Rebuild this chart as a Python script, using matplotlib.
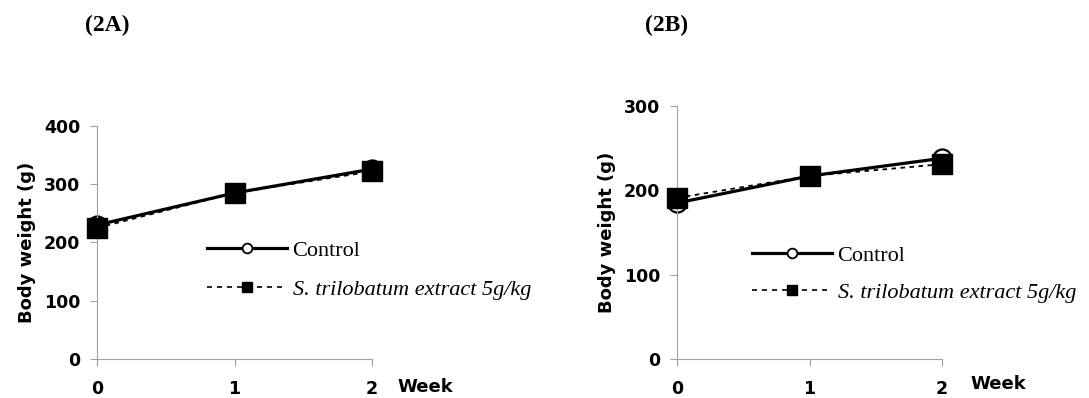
import matplotlib
matplotlib.use("Agg")
import matplotlib.pyplot as plt
from matplotlib.lines import Line2D

weeks = [0, 1, 2]
week_labels = ["0", "1", "2"]
ctrl_A = [230, 285, 326]
trt_A = [225, 285, 322]
ctrl_B = [185, 217, 238]
trt_B = [191, 217, 231]
yticks_A = [0, 100, 200, 300, 400]
yticks_B = [0, 100, 200, 300]
panel_titles = ["(2A)", "(2B)"]
legend_labels = ["Control", "S. trilobatum extract 5g/kg"]

W, H = 1089, 398
fig = plt.figure(figsize=(W/100, H/100), dpi=100)

def px(x0, y0, x1, y1):
    return [x0/W, 1-y1/H, (x1-x0)/W, (y1-y0)/H]

axA = fig.add_axes(px(97, 126, 372, 359))
axB = fig.add_axes(px(677, 106, 942, 359))

SANS = "DejaVu Sans"
SERIF = "Liberation Serif"

specs = [
    (axA, ctrl_A, trt_A, yticks_A, (207, 253), 0.86),
    (axB, ctrl_B, trt_B, yticks_B, (752, 258), 0.77),
]
for ax, c, t, yt, leg, lsp in specs:
    ax.plot(weeks, t, color="black", lw=1.3, ls=(0, (2.5, 2.5)), marker="s",
            ms=15, mfc="black", mec="black", zorder=3, clip_on=False)
    ax.plot(weeks, c, color="black", lw=2.3, marker="o", ms=13,
            mfc="white", mec="black", mew=1.6, zorder=2, clip_on=False)
    ax.set_xlim(0, 2)
    ax.set_ylim(0, yt[-1])
    ax.set_yticks(yt)
    ax.set_xticks(weeks)
    ax.set_xticklabels(week_labels)
    for s in ["top", "right"]:
        ax.spines[s].set_visible(False)
    for s in ["left", "bottom"]:
        ax.spines[s].set_color("#a0a0a0")
        ax.spines[s].set_linewidth(0.8)
    ax.tick_params(axis="both", colors="#a0a0a0", length=5, width=0.8,
                   labelcolor="black", labelsize=12.5)
    ax.tick_params(axis="x", pad=10)
    ax.tick_params(axis="y", pad=7)
    for lab in ax.get_xticklabels() + ax.get_yticklabels():
        lab.set_fontfamily(SANS)
        lab.set_fontweight("bold")
    ax.set_ylabel("Body weight (g)", fontfamily=SANS,
                  fontweight="bold", fontsize=13, labelpad=6)

    # legend
    lx, ly1 = leg
    h1 = Line2D([], [], color="black", lw=2.3, marker="o", ms=7,
                mfc="white", mec="black", mew=1.3)
    h2 = Line2D([], [], color="black", lw=1.2, ls=(0, (3, 3)), marker="s",
                ms=7, mfc="black", mec="black")
    lg = ax.legend([h1, h2], legend_labels, loc="upper left",
                   bbox_to_anchor=(lx/W, 1-(ly1-13)/H), bbox_transform=fig.transFigure,
                   frameon=False, handlelength=3.6, handletextpad=0.25,
                   labelspacing=lsp, borderpad=0, borderaxespad=0,
                   prop={"family": SERIF, "size": 16})
    texts = lg.get_texts()
    texts[1].set_fontstyle("italic")

fig.text(85/W, 1-25/H, panel_titles[0], fontfamily=SERIF,
         fontweight="bold", fontsize=17, ha="left", va="center")
fig.text(645/W, 1-25/H, panel_titles[1], fontfamily=SERIF,
         fontweight="bold", fontsize=17, ha="left", va="center")
fig.text(397/W, 1-387/H, "Week", fontfamily=SANS,
         fontweight="bold", fontsize=13, ha="left", va="center")
fig.text(970/W, 1-384/H, "Week", fontfamily=SANS,
         fontweight="bold", fontsize=13, ha="left", va="center")

fig.savefig("out.png", dpi=100)
